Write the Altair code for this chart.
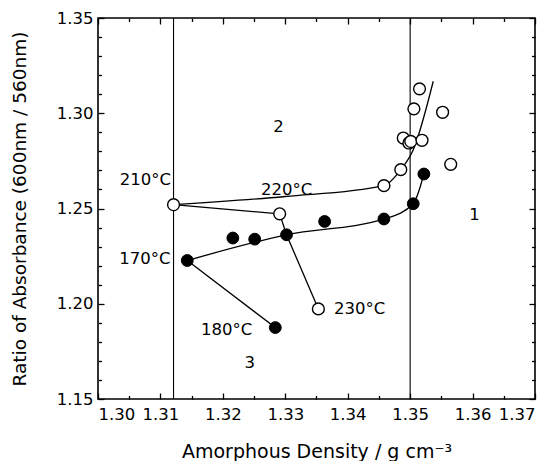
import altair as alt
import pandas as pd

# ---- data ----
open_x = [1.3121, 1.3291, 1.3353, 1.3458, 1.3485, 1.3489, 1.3498, 1.3501, 1.3519, 1.3506, 1.3515, 1.3552, 1.3565]
open_y = [1.2520, 1.2472, 1.1973, 1.2620, 1.2704, 1.2870, 1.2844, 1.2852, 1.2858, 1.3023, 1.3128, 1.3005, 1.2732]

filled_x = [1.3143, 1.3216, 1.3251, 1.3302, 1.3363, 1.3458, 1.3505, 1.3522, 1.3284]
filled_y = [1.2227, 1.2345, 1.2339, 1.2362, 1.2432, 1.2445, 1.2525, 1.2681, 1.1875]

# smooth guide curves
curve_filled_x = [1.3143, 1.3302, 1.3458, 1.3505, 1.3522]
curve_filled_y = [1.2227, 1.2362, 1.2445, 1.2525, 1.2681]
curve_open_x = [1.3121, 1.3300, 1.3458, 1.3485, 1.3505, 1.3537]
curve_open_y = [1.2520, 1.2563, 1.2620, 1.2704, 1.2809, 1.3168]

# straight connecting segments
seg210_x = [1.3121, 1.3291]
seg210_y = [1.2520, 1.2472]
seg230_x = [1.3291, 1.3302, 1.3353]
seg230_y = [1.2472, 1.2362, 1.1973]
seg180_x = [1.3143, 1.3284]
seg180_y = [1.2227, 1.1875]

# boundaries
vline_x = [1.3121, 1.3500]

# annotations
label_text = ["210°C", "170°C", "220°C", "180°C", "1", "2", "3", "230°C"]
label_x = [1.3117, 1.3116, 1.3302, 1.3206, 1.3603, 1.3289, 1.3243, 1.3378]
label_y = [1.2647, 1.2234, 1.2599, 1.1863, 1.2465, 1.2928, 1.1688, 1.1973]
label_align = ["right", "right", "center", "center", "center", "center", "center", "left"]

# axis ticks
X_DOM = [1.30, 1.37]
Y_DOM = [1.15, 1.35]
x_major = [1.30, 1.31, 1.32, 1.33, 1.34, 1.35, 1.36, 1.37]
x_minor = [1.305, 1.315, 1.325, 1.335, 1.345, 1.355, 1.365]
y_major = [1.15, 1.20, 1.25, 1.30, 1.35]
y_minor = [1.16, 1.17, 1.18, 1.19, 1.21, 1.22, 1.23, 1.24, 1.26, 1.27, 1.28, 1.29, 1.31, 1.32, 1.33, 1.34]

W, H = 437, 381
FONT = "DejaVu Sans"
MAJOR_LEN, MINOR_LEN = 6, 3.5  # inward tick lengths in pixels
TICK_COLOR = "black"

xs = alt.Scale(domain=X_DOM, nice=False, zero=False)
ys = alt.Scale(domain=Y_DOM, nice=False, zero=False)

XN = alt.X("x:Q", scale=xs, axis=None)
YN = alt.Y("y:Q", scale=ys, axis=None)


def tick_axis(vals, ln, orient, labels=False, title=None, **kw):
    args = dict(values=vals, orient=orient, offset=-ln, tickSize=ln, ticks=True, tickColor=TICK_COLOR,
                tickWidth=1.3, domain=False, grid=False, labels=labels)
    if labels:
        args.update(format=".2f", labelFontSize=16.5, labelFont=FONT, labelColor="black")
    if title:
        args.update(title=title, titleFont=FONT, titleColor="black", titleFontWeight="normal")
    else:
        args.update(title=None)
    args.update(kw)
    return alt.Axis(**args)


df_open = pd.DataFrame({"x": open_x, "y": open_y})
df_filled = pd.DataFrame({"x": filled_x, "y": filled_y})

rows = []
for name, sx, sy in [("cf", curve_filled_x, curve_filled_y), ("co", curve_open_x, curve_open_y)]:
    for i, (a, b) in enumerate(zip(sx, sy)):
        rows.append({"x": a, "y": b, "seg": name, "ord": i})
df_curves = pd.DataFrame(rows)

rows = []
for name, sx, sy in [("s210", seg210_x, seg210_y), ("s230", seg230_x, seg230_y), ("s180", seg180_x, seg180_y)]:
    for i, (a, b) in enumerate(zip(sx, sy)):
        rows.append({"x": a, "y": b, "seg": name, "ord": i})
df_segs = pd.DataFrame(rows)

df_v = pd.DataFrame({"x": vline_x})
df_lab = pd.DataFrame({"x": label_x, "y": label_y, "t": label_text, "al": label_align})

axis_main = alt.Chart(df_open).mark_point(opacity=0).encode(
    x=alt.X("x:Q", scale=xs, axis=tick_axis(x_major, MAJOR_LEN, "bottom", labels=True,
                                            title="Amorphous Density / g cm⁻³",
                                            labelPadding=7, titleFontSize=19, titlePadding=20)),
    y=alt.Y("y:Q", scale=ys, axis=tick_axis(y_major, MAJOR_LEN, "left", labels=True,
                                            title="Ratio of Absorbance (600nm / 560nm)",
                                            labelPadding=5, titleFontSize=18.5, titlePadding=27)))
axis_top = alt.Chart(df_open).mark_point(opacity=0).encode(
    x=alt.X("x:Q", scale=xs, axis=tick_axis(x_major, MAJOR_LEN, "top")),
    y=alt.Y("y:Q", scale=ys, axis=tick_axis(y_major, MAJOR_LEN, "right")))
axis_minor1 = alt.Chart(df_open).mark_point(opacity=0).encode(
    x=alt.X("x:Q", scale=xs, axis=tick_axis(x_minor, MINOR_LEN, "bottom")),
    y=alt.Y("y:Q", scale=ys, axis=tick_axis(y_minor, MINOR_LEN, "left")))
axis_minor2 = alt.Chart(df_open).mark_point(opacity=0).encode(
    x=alt.X("x:Q", scale=xs, axis=tick_axis(x_minor, MINOR_LEN, "top")),
    y=alt.Y("y:Q", scale=ys, axis=tick_axis(y_minor, MINOR_LEN, "right")))

curves = alt.Chart(df_curves).mark_line(color="black", strokeWidth=1.3, interpolate="monotone").encode(
    x=XN, y=YN, detail="seg:N", order="ord:Q")
segs = alt.Chart(df_segs).mark_line(color="black", strokeWidth=1.3).encode(
    x=XN, y=YN, detail="seg:N", order="ord:Q")
vlines = alt.Chart(df_v).mark_rule(color="black", strokeWidth=1.1).encode(x=XN)

open_pts = alt.Chart(df_open).mark_point(shape="circle", filled=True, fill="white", stroke="black",
                                         strokeWidth=1.4, size=140, opacity=1).encode(x=XN, y=YN)
filled_pts = alt.Chart(df_filled).mark_point(shape="circle", filled=True, fill="black", stroke="black",
                                             strokeWidth=1, size=140, opacity=1).encode(x=XN, y=YN)

texts = []
for al in ["left", "center", "right"]:
    texts.append(alt.Chart(df_lab[df_lab["al"] == al]).mark_text(
        align=al, baseline="middle", font=FONT, fontSize=16.5, color="black").encode(
        x=XN, y=YN, text="t:N"))

chart = alt.layer(axis_main, axis_top, axis_minor1, axis_minor2, curves, segs, vlines,
                  open_pts, filled_pts, *texts).resolve_axis(
    x="independent", y="independent"
).properties(
    width=W, height=H, autosize="none",
    padding={"left": 98, "top": 18, "right": 22, "bottom": 62},
    background="white",
).configure_view(stroke="black", strokeWidth=1.6)

chart.save("out.html", embed_options={"renderer": "svg", "actions": False})
